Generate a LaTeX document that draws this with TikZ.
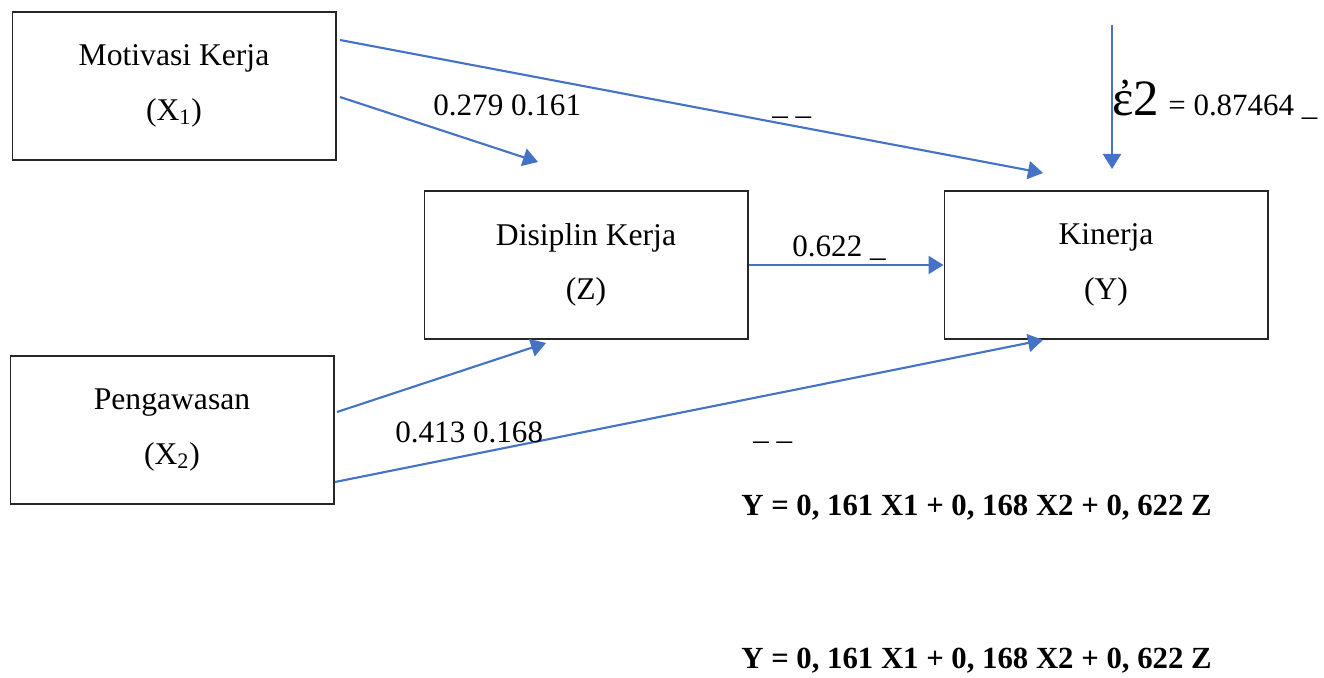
\documentclass[tikz,border=0pt]{standalone}
\usepackage{fontspec}
\setmainfont{Liberation Serif}
\usetikzlibrary{arrows.meta}
\definecolor{arrblue}{RGB}{68,114,196}

\begin{document}
\begin{tikzpicture}[x=0.02cm,y=-0.02cm,
  varbox/.style={draw=black!85,line width=0.6pt,minimum width=6.48cm,minimum height=2.96cm,align=center,font=\fontsize{18}{31}\selectfont},
  arr/.style={arrblue,line width=1.2pt,-{Triangle[width=0.36cm,length=0.3cm]}},
  coef/.style={anchor=base west,inner sep=0pt,font=\fontsize{17.7}{20}\selectfont}]
\useasboundingbox (0,0) rectangle (1324,678);
%\draw[step=50,gray,very thin] (0,0) grid (1324,678); %background grid

\node[varbox] (x1) at (174,86)  {Motivasi Kerja\\(X\textsubscript{1})};
\node[varbox] (x2) at (172,430) {Pengawasan\\(X\textsubscript{2})};
\node[varbox] (z)  at (586,265) {Disiplin Kerja\\(Z)};
\node[varbox] (y)  at (1106,265) {Kinerja\\(Y)};

%--------------------------------------------------------

\coordinate (x1a) at (340,40);  \coordinate (x1ae) at (1043,173);
\coordinate (x1b) at (340,97);  \coordinate (x1be) at (538,162);
\coordinate (x2a) at (337,412); \coordinate (x2ae) at (546,343);
\coordinate (x2b) at (335,482); \coordinate (x2be) at (1043,340);
\coordinate (ea)  at (1112,25); \coordinate (eae)  at (1112,169);

\draw[arr] (x1a) -- (x1ae);
\draw[arr] (x1b) -- (x1be);
\draw[arr] (x2a) -- (x2ae);
\draw[arr] (x2b) -- (x2be);
\draw[arr] (z.east) -- (y.west);
\draw[arr] (ea) -- (eae);

%--------------------------------------------------------

\node[coef] (c1) at (433,116) {0.279 0.161};
\node[coef] (c2) at (395,442) {0.413 0.168};
\node[coef] (c3) at (792,257) {0.622 \_};
\node[coef] (d1) at (772,115) {\_ \_};
\node[coef] (d2) at (753,439) {\_ \_};

\node[anchor=base west,inner sep=0pt,font=\fontsize{29}{30}\selectfont] (eps) at (1112,116) {ἐ2};
\node[coef,font=\fontsize{17.6}{20}\selectfont] (epsv) at (1168,116) {= 0.87464 \_};

\node[anchor=base west,inner sep=0pt,font=\bfseries\fontsize{17.5}{20}\selectfont] (eq1) at (741,515) {Y = 0, 161 X1 + 0, 168 X2 + 0, 622 Z};
\node[anchor=base west,inner sep=0pt,font=\bfseries\fontsize{17.5}{20}\selectfont] (eq2) at (741,668) {Y = 0, 161 X1 + 0, 168 X2 + 0, 622 Z};
\end{tikzpicture}
\end{document}
